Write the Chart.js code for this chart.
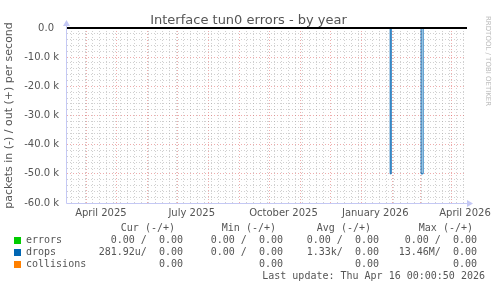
<!DOCTYPE html>
<html>
<head>
<meta charset="utf-8">
<script src="https://cdn.jsdelivr.net/npm/chart.js@4.4.0/dist/chart.umd.min.js"></script>
<style>
  html, body { margin: 0; padding: 0; background: #fff; }
  #wrap { position: relative; width: 497px; height: 288px; overflow: hidden; background: #fff; }
  #chart { position: absolute; left: 0; top: 0; }
  #title { position: absolute; left: 0; top: 12px; width: 497px; text-align: center;
           font: 13px 'DejaVu Sans', sans-serif; line-height: 15px; color: #555; }
  #mark { position: absolute; left: 492px; top: 16px; transform: rotate(90deg); transform-origin: 0 0;
          font: 7px 'DejaVu Sans', sans-serif; line-height: 9px; color: #bbb; white-space: nowrap; }
  .mono { position: absolute; white-space: pre; font: 10px 'DejaVu Sans Mono', monospace;
          line-height: 12px; color: #555; }
  .sq { position: absolute; width: 7px; height: 7px; }
</style>
</head>
<body>
<div id="wrap">
  <canvas id="chart" width="497" height="288"></canvas>
  <div id="title">Interface tun0 errors - by year</div>
  <div id="mark">RRDTOOL / TOBI OETIKER</div>
</div>
<script>
// time range of the graph
const startDate = '2025-03-12';
const endDate = '2026-04-16';

const monthStarts = ['2025-04-01', '2025-05-01', '2025-06-01', '2025-07-01', '2025-08-01',
  '2025-09-01', '2025-10-01', '2025-11-01', '2025-12-01', '2026-01-01', '2026-02-01',
  '2026-03-01', '2026-04-01'];
const tickLabels = ['April 2025', 'July 2025', 'October 2025', 'January 2026', 'April 2026'];
const tickLabelDates = ['2025-04-15', '2025-07-15', '2025-10-15', '2026-01-15', '2026-04-15'];

// series (in = negative side)
const errorDates = ['2025-03-12', '2026-04-16'];
const errorsIn = [0, 0];
const dropDates = ['2025-03-12', '2026-01-30', '2026-01-31', '2026-03-02', '2026-03-04', '2026-04-16'];
const dropsIn = [0, -50000, 0, -50000, 0, 0];
const collisionDates = ['2025-03-12', '2026-04-16'];
const collisionsVal = [0, 0];

// legend table
const seriesNames = ['errors', 'drops', 'collisions'];
const seriesColors = ['#00cc00', '#0066b3', '#ff8000'];
const columnHeads = ['Cur (-/+)', 'Min (-/+)', 'Avg (-/+)', 'Max (-/+)'];
const curValues = ['0.00 /  0.00', '281.92u/  0.00', '0.00'];
const minValues = ['0.00 /  0.00', '0.00 /  0.00', '0.00'];
const avgValues = ['0.00 /  0.00', '1.33k/  0.00', '0.00'];
const maxValues = ['0.00 /  0.00', '13.46M/  0.00', '0.00'];
const lastUpdate = 'Last update: Thu Apr 16 00:00:50 2026';

const DAY = 86400000;
function dayOf(s) { return (Date.parse(s) - Date.parse(startDate)) / DAY; }
function pts(dates, vals) { return dates.map((d, i) => ({ x: dayOf(d), y: vals[i] })); }

// x ticks: weekly minor grid, monthly major grid, mid-month labels
const xTicks = new Map();
for (let d = dayOf('2025-03-17'); d <= dayOf(endDate); d += 7) xTicks.set(d, { grid: 'minor', label: '' });
monthStarts.forEach(m => xTicks.set(dayOf(m), { grid: 'major', label: '' }));
tickLabelDates.forEach((d, i) => {
  const v = dayOf(d);
  const t = xTicks.get(v);
  xTicks.set(v, { grid: t ? t.grid : null, label: tickLabels[i] });
});

const minorGrid = 'rgba(150,150,150,0.45)';
const majorGrid = 'rgba(220,70,70,0.45)';
const axisColor = '#c4c8f4';
const font10 = { family: "'DejaVu Sans', sans-serif", size: 10 };

const rrdAxes = {
  id: 'rrdAxes',
  afterDatasetsDraw(chart) {
    const { ctx, chartArea: a, scales: { y } } = chart;
    const y0 = y.getPixelForValue(0);
    ctx.save();
    ctx.strokeStyle = '#000';
    ctx.lineWidth = 2;
    ctx.beginPath(); ctx.moveTo(a.left, y0); ctx.lineTo(a.right + 1, y0); ctx.stroke();

    ctx.strokeStyle = axisColor;
    ctx.fillStyle = axisColor;
    ctx.lineWidth = 1;
    const lx = a.left - 0.5, by = a.bottom + 0.5;
    ctx.beginPath(); ctx.moveTo(lx, a.top - 6); ctx.lineTo(lx, by); ctx.lineTo(a.right + 4, by); ctx.stroke();
    ctx.beginPath(); ctx.moveTo(lx, a.top - 8); ctx.lineTo(lx - 3.5, a.top - 2); ctx.lineTo(lx + 3.5, a.top - 2); ctx.fill();
    ctx.beginPath(); ctx.moveTo(a.right + 7, by); ctx.lineTo(a.right + 1, by - 3.5); ctx.lineTo(a.right + 1, by + 3.5); ctx.fill();
    ctx.restore();
  }
};

new Chart(document.getElementById('chart'), {
  type: 'line',
  data: {
    datasets: [
      { label: 'errors', data: pts(errorDates, errorsIn), borderColor: '#00cc00', borderWidth: 1, pointRadius: 0 },
      { label: 'drops', data: pts(dropDates, dropsIn), borderColor: '#0066b3', borderWidth: 1, pointRadius: 0, stepped: true },
      { label: 'collisions', data: pts(collisionDates, collisionsVal), borderColor: '#ff8000', borderWidth: 1, pointRadius: 0 }
    ]
  },
  options: {
    responsive: false,
    animation: false,
    events: [],
    layout: { padding: { left: 0, right: 31, top: 28, bottom: 65 } },
    plugins: { legend: { display: false }, tooltip: { enabled: false }, title: { display: false } },
    scales: {
      x: {
        type: 'linear',
        min: 0,
        max: dayOf(endDate),
        afterBuildTicks: scale => {
          scale.ticks = [...xTicks.keys()].sort((a, b) => a - b).map(v => ({ value: v }));
        },
        afterFit: scale => { scale.height = 20; },
        grid: {
          drawTicks: false,
          color: c => {
            const t = xTicks.get(c.tick && c.tick.value);
            if (!t || !t.grid) return 'rgba(0,0,0,0)';
            return t.grid === 'major' ? majorGrid : minorGrid;
          }
        },
        border: { display: false, dash: [1, 2] },
        ticks: {
          autoSkip: false,
          maxRotation: 0,
          padding: 4,
          color: '#555',
          font: font10,
          callback: v => (xTicks.get(v) || {}).label || ''
        }
      },
      y: {
        min: -60000,
        max: 0,
        afterFit: scale => { scale.width = 67; },
        grid: {
          drawTicks: false,
          color: c => (c.tick && c.tick.value % 10000 === 0) ? majorGrid : minorGrid
        },
        border: { display: false, dash: [1, 2] },
        ticks: {
          stepSize: 2000,
          autoSkip: false,
          padding: 8,
          color: '#555',
          font: font10,
          callback: v => v % 10000 !== 0 ? '' : (v === 0 ? '0.0\u2002' : (v / 1000).toFixed(1) + ' k')
        },
        title: {
          display: true,
          text: 'packets in (-) / out (+) per second',
          color: '#555',
          font: { family: "'DejaVu Sans', sans-serif", size: 11 },
          padding: { top: 3, bottom: 0 }
        }
      }
    }
  },
  plugins: [rrdAxes]
});

// legend table below the graph
const wrap = document.getElementById('wrap');
function addText(txt, left, top, width, align) {
  const el = document.createElement('div');
  el.className = 'mono';
  el.textContent = txt;
  el.style.top = top + 'px';
  if (align === 'right') { el.style.left = (left - width) + 'px'; el.style.width = width + 'px'; el.style.textAlign = 'right'; }
  else el.style.left = left + 'px';
  wrap.appendChild(el);
}
const headRight = [175, 276, 371, 473];
const colRight = [183, 283, 379, 477];
columnHeads.forEach((h, i) => addText(h, headRight[i], 222, 120, 'right'));
const cols = [curValues, minValues, avgValues, maxValues];
seriesNames.forEach((name, r) => {
  const top = 234 + r * 12;
  const sq = document.createElement('div');
  sq.className = 'sq';
  sq.style.left = '14px';
  sq.style.top = (top + 3) + 'px';
  sq.style.background = seriesColors[r];
  wrap.appendChild(sq);
  addText(name, 26, top);
  cols.forEach((c, i) => addText(c[r], colRight[i], top, 120, 'right'));
});
addText(lastUpdate, 485, 270, 240, 'right');
</script>
</body>
</html>
